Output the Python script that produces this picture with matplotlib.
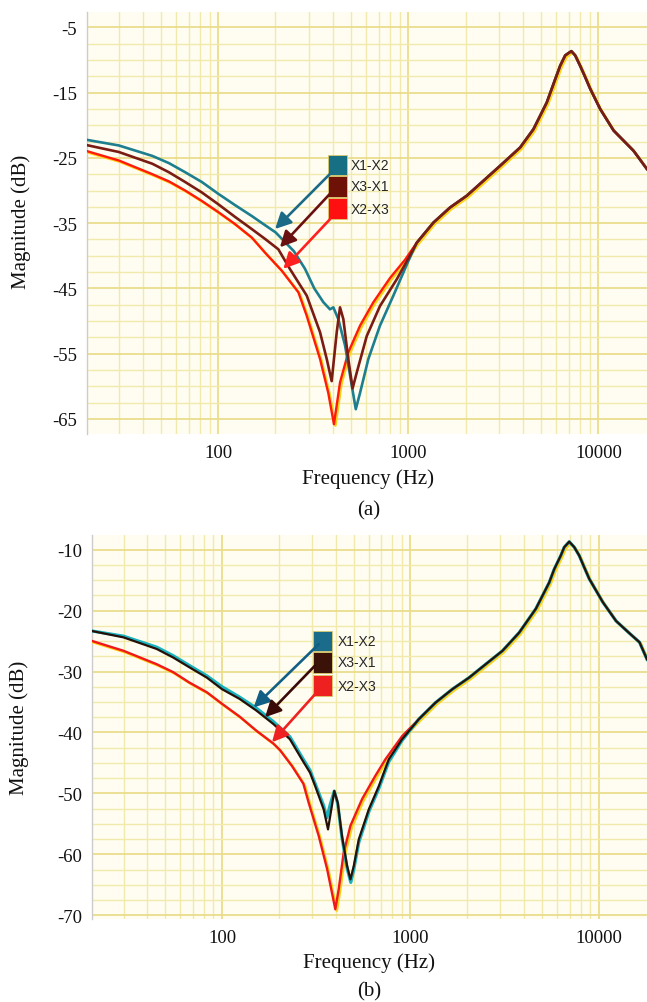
import matplotlib
matplotlib.use('Agg')
import matplotlib.pyplot as plt
import matplotlib.transforms as mtransforms
from matplotlib.patches import Rectangle
from matplotlib.ticker import FixedLocator, MultipleLocator, LogLocator, NullFormatter, FuncFormatter
import numpy as np

plt.rcParams['font.family'] = ['Liberation Serif', 'DejaVu Serif']
plt.rcParams['axes.unicode_minus'] = False

# ---------------- data ----------------
series_names = ['X1-X2', 'X3-X1', 'X2-X3']
x_tick_values = [100, 1000, 10000]
yticks_a = [-5, -15, -25, -35, -45, -55, -65]
yticks_b = [-10, -20, -30, -40, -50, -60, -70]

# panel (a): common high-frequency part
a_hf_freq = [1107, 1356, 1657, 2028, 2483, 3041, 3874, 4550, 5348, 5794, 6285, 6683, 7200, 7540, 8010, 8505, 9040, 10200, 12000, 15280, 17970]
a_hf_db = [-38.0, -34.9, -32.6, -30.8, -28.5, -26.2, -23.4, -20.6, -16.5, -13.7, -10.9, -9.3, -8.65, -9.3, -10.9, -12.6, -14.4, -17.5, -20.8, -23.9, -26.7]

a_x1x2_freq = [20, 30, 45, 55, 67, 82, 100, 122, 150, 176, 200, 250, 286, 320, 357, 387, 403, 428, 465, 504, 529, 557, 616, 709, 834, 1000]
a_x1x2_db = [-22.2, -23.1, -24.7, -25.8, -27.2, -28.7, -30.5, -32.2, -33.9, -35.3, -36.4, -39.3, -42.0, -45.0, -47.1, -48.2, -47.9, -49.7, -53.8, -59.9, -63.5, -61.0, -55.8, -50.7, -46.1, -40.8]

a_x3x1_freq = [20, 30, 45, 55, 67, 82, 100, 122, 150, 176, 207, 238, 292, 343, 372, 395, 420, 437, 455, 483, 509, 535, 604, 709, 869, 1000]
a_x3x1_db = [-23.0, -24.1, -25.9, -27.2, -28.7, -30.3, -32.1, -34.0, -35.9, -37.4, -39.0, -42.0, -46.1, -51.7, -55.8, -59.2, -51.7, -47.9, -49.7, -55.8, -60.3, -57.9, -52.3, -47.7, -43.6, -40.4]

a_x2x3_freq = [20, 30, 45, 55, 67, 82, 100, 122, 150, 176, 216, 264, 292, 343, 379, 406, 437, 483, 557, 655, 801, 961]
a_x2x3_db = [-23.9, -25.4, -27.5, -28.6, -30.0, -31.6, -33.3, -35.1, -37.2, -39.5, -42.3, -45.6, -49.2, -55.8, -61.0, -65.8, -59.4, -54.8, -50.7, -47.1, -43.4, -40.6]

# panel (b): common high-frequency part
b_hf_freq = [1108, 1358, 1667, 2046, 2507, 3077, 3776, 4627, 5446, 5793, 6270, 6546, 6960, 7400, 7870, 8356, 8890, 10480, 12330, 14500, 16430, 18000]
b_hf_db = [-37.8, -35.1, -32.9, -31.0, -28.8, -26.6, -23.6, -19.7, -15.4, -13.2, -11.0, -9.6, -8.7, -9.6, -11.0, -12.9, -14.8, -18.6, -21.7, -23.7, -25.2, -28.0]

b_x1x2_freq = [20, 30, 45, 55, 67, 83, 100, 124, 152, 187, 229, 265, 293, 312, 346, 360, 375, 394, 411, 433, 461, 482, 500, 532, 601, 679, 767, 903]
b_x1x2_db = [-23.3, -24.2, -26.0, -27.4, -29.0, -30.7, -32.5, -34.2, -36.0, -38.2, -40.7, -44.0, -46.2, -48.4, -52.0, -54.0, -51.8, -49.6, -51.7, -57.3, -62.3, -64.6, -62.5, -58.0, -53.0, -49.2, -44.8, -41.3]

b_x3x1_freq = [20, 30, 45, 55, 67, 83, 100, 124, 152, 187, 229, 265, 293, 312, 346, 365, 380, 394, 411, 433, 461, 480, 500, 532, 601, 679, 767, 903]
b_x3x1_db = [-23.3, -24.4, -26.3, -27.7, -29.3, -31.0, -32.9, -34.5, -36.4, -38.6, -41.1, -44.4, -46.6, -48.8, -52.6, -55.9, -52.6, -49.6, -51.5, -57.0, -61.9, -64.1, -61.9, -57.5, -52.6, -48.8, -44.4, -41.1]

b_x2x3_freq = [20, 30, 45, 55, 67, 83, 100, 124, 152, 187, 203, 235, 270, 288, 326, 361, 383, 399, 416, 442, 480, 554, 651, 736, 903]
b_x2x3_db = [-24.9, -26.6, -28.8, -30.1, -31.8, -33.4, -35.3, -37.4, -39.7, -41.8, -42.9, -45.5, -48.4, -51.5, -57.0, -62.4, -66.3, -69.0, -65.7, -59.7, -55.3, -50.9, -47.1, -44.4, -40.6]

# ---------------- figure ----------------
fig = plt.figure(figsize=(6.47, 10.03), dpi=100)
ax_a = fig.add_axes([86.6 / 647, 1 - 435 / 1003, (647 - 86.6) / 647, (435 - 13.3) / 1003])
ax_b = fig.add_axes([91.6 / 647, 1 - 920 / 1003, (647 - 91.6) / 647, (920 - 536) / 1003])


def style_axes(ax, yticks, ylim):
    ax.set_xscale('log')
    ax.set_xlim(20.3, 18000)
    ax.set_ylim(*ylim)
    ax.set_facecolor('#fffdf1')
    ax.xaxis.set_major_locator(FixedLocator(x_tick_values))
    ax.xaxis.set_major_formatter(FuncFormatter(lambda v, p: f'{int(round(v))}'))
    ax.xaxis.set_minor_locator(LogLocator(base=10, subs=np.arange(2, 10)))
    ax.xaxis.set_minor_formatter(NullFormatter())
    ax.yaxis.set_major_locator(FixedLocator(yticks))
    ax.yaxis.set_minor_locator(MultipleLocator(2.5))
    ax.grid(which='major', color='#e9dd8c', lw=1.3)
    ax.grid(which='minor', color='#f2e9ad', lw=1.0)
    ax.set_axisbelow(True)
    for side, s in ax.spines.items():
        if side == 'left':
            s.set_color('#cccccc')
            s.set_linewidth(1.0)
        else:
            s.set_visible(False)
    ax.tick_params(which='both', length=0, labelsize=13.5, colors='#111111')
    ax.tick_params(axis='y', pad=7)
    ax.tick_params(axis='x', pad=7)


def draw_panel(ax, curves, colors, lws, hf_freq, hf_db):
    off = mtransforms.offset_copy(ax.transData, fig=fig, x=1.5, y=-1.5, units='dots')
    f3 = list(curves[2][0]) + list(hf_freq)
    d3 = list(curves[2][1]) + list(hf_db)
    ax.plot(f3, d3, color='#ffd21a', lw=1.8, transform=off, zorder=3, solid_joinstyle='round')
    ax.plot(f3, d3, color=colors[2], lw=lws[2], zorder=4, solid_joinstyle='round')
    for i in (0, 1):
        f = list(curves[i][0]) + list(hf_freq)
        d = list(curves[i][1]) + list(hf_db)
        ax.plot(f, d, color=colors[i], lw=lws[i], zorder=5 + i, solid_joinstyle='round')


def draw_legend(ax, f_left, f_right, box_tops, box_h, text_f, box_colors, arrow_colors, tails, tips):
    for i, name in enumerate(series_names):
        top = box_tops[i]
        ax.add_patch(Rectangle((f_left, top - box_h), f_right - f_left, box_h,
                               facecolor=box_colors[i], edgecolor='#d9c96a', lw=0.6, zorder=8))
        ax.text(text_f, top - box_h / 2, name, family=['Liberation Sans Narrow', 'Liberation Sans'],
                fontsize=10, color='#262626', ha='left', va='center', zorder=9)
    for i in range(3):
        ax.annotate('', xy=tips[i], xytext=tails[i],
                    arrowprops=dict(arrowstyle='-|>,head_length=0.8,head_width=0.4',
                                    color=arrow_colors[i], lw=1.9, shrinkA=0, shrinkB=0,
                                    mutation_scale=12), zorder=10)


# panel (a)
style_axes(ax_a, yticks_a, (-67.3, -2.7))
draw_panel(ax_a,
           [(a_x1x2_freq, a_x1x2_db), (a_x3x1_freq, a_x3x1_db), (a_x2x3_freq, a_x2x3_db)],
           ['#1c7e8e', '#7a1c14', '#ff1a0a'], [1.9, 1.9, 1.7], a_hf_freq, a_hf_db)
draw_legend(ax_a, 380, 477, [-24.55, -27.8, -31.2], 3.15, 499,
            ['#176f84', '#6e1208', '#ff1010'], ['#1b6a86', '#6a1010', '#ff2020'],
            [(395, -27.2), (387, -30.5), (387, -34.4)],
            [(199, -35.9), (211, -38.7), (220, -42.0)])
ax_a.set_xlabel('Frequency (Hz)', fontsize=15, color='#111111')
ax_a.set_ylabel('Magnitude (dB)', fontsize=15, color='#111111')
ax_a.xaxis.set_label_coords(0.503, -0.082)
ax_a.yaxis.set_label_coords(-0.100, 0.506)

# panel (b)
style_axes(ax_b, yticks_b, (-70.6, -7.6))
draw_panel(ax_b,
           [(b_x1x2_freq, b_x1x2_db), (b_x3x1_freq, b_x3x1_db), (b_x2x3_freq, b_x2x3_db)],
           ['#19b3bf', '#261008', '#f01818'], [2.3, 1.6, 1.7], b_hf_freq, b_hf_db)
draw_legend(ax_b, 303, 383, [-23.3, -26.8, -30.6], 3.4, 412,
            ['#1a6c8a', '#3a1208', '#ee2020'], ['#125f85', '#3a0a08', '#ee2222'],
            [(326, -25.5), (312, -29.0), (312, -33.7)],
            [(147, -35.9), (169, -37.5), (184, -41.6)])
ax_b.set_xlabel('Frequency (Hz)', fontsize=15, color='#111111')
ax_b.set_ylabel('Magnitude (dB)', fontsize=15, color='#111111')
ax_b.xaxis.set_label_coords(0.50, -0.087)
ax_b.yaxis.set_label_coords(-0.113, 0.5)

fig.text(369 / 647, 1 - 510.7 / 1003, '(a)', ha='center', va='center', fontsize=15, color='#111111')
fig.text(369 / 647, 1 - 991.7 / 1003, '(b)', ha='center', va='center', fontsize=15, color='#111111')

fig.savefig('out.png', dpi=100, facecolor='white')
